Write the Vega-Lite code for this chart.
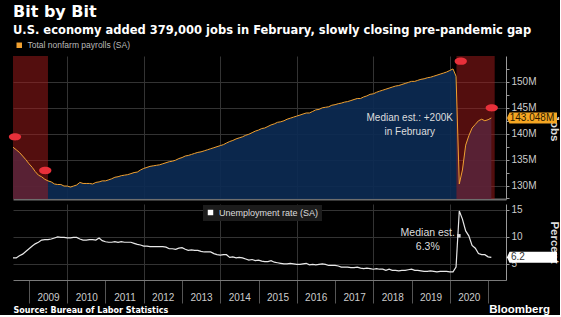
{
  "$schema": "https://vega.github.io/schema/vega-lite/v6.json",
  "background": "#000000",
  "padding": {"left": 8, "top": 3, "right": 0, "bottom": 0},
  "title": {
    "text": "Bit by Bit",
    "subtitle": "U.S. economy added 379,000 jobs in February, slowly closing pre-pandemic gap",
    "anchor": "start", "frame": "group",
    "font": "DejaVu Sans", "fontSize": 16, "fontWeight": "bold", "color": "#ffffff",
    "subtitleFont": "DejaVu Sans", "subtitleFontSize": 11.5, "subtitleFontWeight": "bold", "subtitleColor": "#ffffff",
    "subtitlePadding": 5, "offset": 5
  },
  "config": {
    "view": {"stroke": null},
    "font": "Liberation Sans",
    "axis": {"labelFont": "Liberation Sans", "titleFont": "Liberation Sans"},
    "legend": {"labelFont": "Liberation Sans"}
  },
  "spacing": 0,
  "resolve": {"scale": {"color": "independent", "y": "independent"}, "legend": {"color": "independent"}},
  "datasets": {
    "main": [
      {"date":"2008-08-01","jobs":137.4,"rate":6.1},{"date":"2008-09-01","jobs":136.9,"rate":6.1},{"date":"2008-10-01","jobs":136.4,"rate":6.5},{"date":"2008-11-01","jobs":135.7,"rate":6.8},{"date":"2008-12-01","jobs":135.0,"rate":7.3},
      {"date":"2009-01-01","jobs":134.2,"rate":7.8},{"date":"2009-02-01","jobs":133.5,"rate":8.3},{"date":"2009-03-01","jobs":132.7,"rate":8.7},{"date":"2009-04-01","jobs":132.0,"rate":9.0},{"date":"2009-05-01","jobs":131.7,"rate":9.4},{"date":"2009-06-01","jobs":131.2,"rate":9.5},{"date":"2009-07-01","jobs":130.9,"rate":9.5},{"date":"2009-08-01","jobs":130.7,"rate":9.6},{"date":"2009-09-01","jobs":130.3,"rate":9.8},{"date":"2009-10-01","jobs":130.2,"rate":10.0},{"date":"2009-11-01","jobs":130.2,"rate":9.9},{"date":"2009-12-01","jobs":129.9,"rate":9.9},
      {"date":"2010-01-01","jobs":129.9,"rate":9.8},{"date":"2010-02-01","jobs":129.7,"rate":9.8},{"date":"2010-03-01","jobs":129.9,"rate":9.9},{"date":"2010-04-01","jobs":130.1,"rate":9.9},{"date":"2010-05-01","jobs":130.6,"rate":9.6},{"date":"2010-06-01","jobs":130.4,"rate":9.4},{"date":"2010-07-01","jobs":130.4,"rate":9.4},{"date":"2010-08-01","jobs":130.4,"rate":9.5},{"date":"2010-09-01","jobs":130.3,"rate":9.5},{"date":"2010-10-01","jobs":130.6,"rate":9.4},{"date":"2010-11-01","jobs":130.7,"rate":9.8},{"date":"2010-12-01","jobs":130.9,"rate":9.3},
      {"date":"2011-01-01","jobs":130.9,"rate":9.1},{"date":"2011-02-01","jobs":131.1,"rate":9.0},{"date":"2011-03-01","jobs":131.3,"rate":9.0},{"date":"2011-04-01","jobs":131.6,"rate":9.1},{"date":"2011-05-01","jobs":131.7,"rate":9.0},{"date":"2011-06-01","jobs":131.9,"rate":9.1},{"date":"2011-07-01","jobs":132.0,"rate":9.0},{"date":"2011-08-01","jobs":132.1,"rate":9.0},{"date":"2011-09-01","jobs":132.3,"rate":9.0},{"date":"2011-10-01","jobs":132.5,"rate":8.8},{"date":"2011-11-01","jobs":132.6,"rate":8.6},{"date":"2011-12-01","jobs":133.0,"rate":8.5},
      {"date":"2012-01-01","jobs":133.3,"rate":8.3},{"date":"2012-02-01","jobs":133.5,"rate":8.3},{"date":"2012-03-01","jobs":133.7,"rate":8.2},{"date":"2012-04-01","jobs":133.8,"rate":8.2},{"date":"2012-05-01","jobs":133.9,"rate":8.2},{"date":"2012-06-01","jobs":134.0,"rate":8.2},{"date":"2012-07-01","jobs":134.2,"rate":8.2},{"date":"2012-08-01","jobs":134.4,"rate":8.1},{"date":"2012-09-01","jobs":134.6,"rate":7.8},{"date":"2012-10-01","jobs":134.7,"rate":7.8},{"date":"2012-11-01","jobs":134.9,"rate":7.7},{"date":"2012-12-01","jobs":135.2,"rate":7.9},
      {"date":"2013-01-01","jobs":135.4,"rate":8.0},{"date":"2013-02-01","jobs":135.7,"rate":7.7},{"date":"2013-03-01","jobs":135.8,"rate":7.5},{"date":"2013-04-01","jobs":136.0,"rate":7.6},{"date":"2013-05-01","jobs":136.2,"rate":7.5},{"date":"2013-06-01","jobs":136.4,"rate":7.5},{"date":"2013-07-01","jobs":136.5,"rate":7.3},{"date":"2013-08-01","jobs":136.7,"rate":7.2},{"date":"2013-09-01","jobs":136.9,"rate":7.2},{"date":"2013-10-01","jobs":137.1,"rate":7.2},{"date":"2013-11-01","jobs":137.3,"rate":6.9},{"date":"2013-12-01","jobs":137.5,"rate":6.7},
      {"date":"2014-01-01","jobs":137.7,"rate":6.6},{"date":"2014-02-01","jobs":137.9,"rate":6.7},{"date":"2014-03-01","jobs":138.2,"rate":6.7},{"date":"2014-04-01","jobs":138.5,"rate":6.2},{"date":"2014-05-01","jobs":138.7,"rate":6.3},{"date":"2014-06-01","jobs":139.0,"rate":6.1},{"date":"2014-07-01","jobs":139.2,"rate":6.2},{"date":"2014-08-01","jobs":139.4,"rate":6.1},{"date":"2014-09-01","jobs":139.7,"rate":5.9},{"date":"2014-10-01","jobs":139.9,"rate":5.7},{"date":"2014-11-01","jobs":140.2,"rate":5.8},{"date":"2014-12-01","jobs":140.5,"rate":5.6},
      {"date":"2015-01-01","jobs":140.7,"rate":5.7},{"date":"2015-02-01","jobs":141.0,"rate":5.5},{"date":"2015-03-01","jobs":141.1,"rate":5.4},{"date":"2015-04-01","jobs":141.4,"rate":5.4},{"date":"2015-05-01","jobs":141.7,"rate":5.6},{"date":"2015-06-01","jobs":141.9,"rate":5.3},{"date":"2015-07-01","jobs":142.2,"rate":5.2},{"date":"2015-08-01","jobs":142.3,"rate":5.1},{"date":"2015-09-01","jobs":142.5,"rate":5.0},{"date":"2015-10-01","jobs":142.8,"rate":5.0},{"date":"2015-11-01","jobs":143.0,"rate":5.1},{"date":"2015-12-01","jobs":143.2,"rate":5.0},
      {"date":"2016-01-01","jobs":143.4,"rate":4.9},{"date":"2016-02-01","jobs":143.6,"rate":4.9},{"date":"2016-03-01","jobs":143.8,"rate":5.0},{"date":"2016-04-01","jobs":144.0,"rate":5.1},{"date":"2016-05-01","jobs":144.0,"rate":4.8},{"date":"2016-06-01","jobs":144.3,"rate":4.9},{"date":"2016-07-01","jobs":144.6,"rate":4.8},{"date":"2016-08-01","jobs":144.7,"rate":4.9},{"date":"2016-09-01","jobs":145.0,"rate":5.0},{"date":"2016-10-01","jobs":145.1,"rate":4.9},{"date":"2016-11-01","jobs":145.2,"rate":4.7},{"date":"2016-12-01","jobs":145.5,"rate":4.7},
      {"date":"2017-01-01","jobs":145.6,"rate":4.7},{"date":"2017-02-01","jobs":145.8,"rate":4.6},{"date":"2017-03-01","jobs":145.9,"rate":4.4},{"date":"2017-04-01","jobs":146.1,"rate":4.4},{"date":"2017-05-01","jobs":146.2,"rate":4.4},{"date":"2017-06-01","jobs":146.4,"rate":4.3},{"date":"2017-07-01","jobs":146.6,"rate":4.3},{"date":"2017-08-01","jobs":146.8,"rate":4.4},{"date":"2017-09-01","jobs":146.8,"rate":4.2},{"date":"2017-10-01","jobs":147.1,"rate":4.1},{"date":"2017-11-01","jobs":147.3,"rate":4.2},{"date":"2017-12-01","jobs":147.6,"rate":4.1},
      {"date":"2018-01-01","jobs":147.7,"rate":4.0},{"date":"2018-02-01","jobs":148.0,"rate":4.1},{"date":"2018-03-01","jobs":148.2,"rate":4.0},{"date":"2018-04-01","jobs":148.4,"rate":4.0},{"date":"2018-05-01","jobs":148.6,"rate":3.8},{"date":"2018-06-01","jobs":148.8,"rate":4.0},{"date":"2018-07-01","jobs":149.0,"rate":3.8},{"date":"2018-08-01","jobs":149.2,"rate":3.8},{"date":"2018-09-01","jobs":149.3,"rate":3.7},{"date":"2018-10-01","jobs":149.5,"rate":3.8},{"date":"2018-11-01","jobs":149.7,"rate":3.8},{"date":"2018-12-01","jobs":149.9,"rate":3.9},
      {"date":"2019-01-01","jobs":150.1,"rate":4.0},{"date":"2019-02-01","jobs":150.1,"rate":3.8},{"date":"2019-03-01","jobs":150.3,"rate":3.8},{"date":"2019-04-01","jobs":150.5,"rate":3.7},{"date":"2019-05-01","jobs":150.6,"rate":3.6},{"date":"2019-06-01","jobs":150.8,"rate":3.6},{"date":"2019-07-01","jobs":150.9,"rate":3.7},{"date":"2019-08-01","jobs":151.1,"rate":3.6},{"date":"2019-09-01","jobs":151.3,"rate":3.5},{"date":"2019-10-01","jobs":151.5,"rate":3.6},{"date":"2019-11-01","jobs":151.7,"rate":3.6},{"date":"2019-12-01","jobs":151.9,"rate":3.6},
      {"date":"2020-01-01","jobs":152.2,"rate":3.5},{"date":"2020-02-01","jobs":152.5,"rate":3.5},{"date":"2020-03-01","jobs":151.1,"rate":4.4},{"date":"2020-04-01","jobs":130.3,"rate":14.8},{"date":"2020-05-01","jobs":133.0,"rate":13.3},{"date":"2020-06-01","jobs":137.8,"rate":11.1},{"date":"2020-07-01","jobs":139.6,"rate":10.2},{"date":"2020-08-01","jobs":141.1,"rate":8.4},{"date":"2020-09-01","jobs":141.8,"rate":7.9},{"date":"2020-10-01","jobs":142.5,"rate":6.9},{"date":"2020-11-01","jobs":142.8,"rate":6.7},{"date":"2020-12-01","jobs":142.5,"rate":6.7},
      {"date":"2021-01-01","jobs":142.7,"rate":6.3},{"date":"2021-02-01","jobs":143.048,"rate":6.2}
    ],
    "recessions": [
      {"date":"2008-08-01","end":"2009-07-01"},
      {"date":"2020-03-05","end":"2021-03-05"}
    ],
    "flags": [
      {"date":"2008-08-20","jobs":139.4},
      {"date":"2009-06-05","jobs":132.9},
      {"date":"2020-04-15","jobs":154.0},
      {"date":"2021-02-05","jobs":145.0}
    ],
    "noteTop": [{"date":"2018-12-15","jobs":143.1,"label":["Median est.: +200K","in February"]}],
    "noteBottom": [{"date":"2019-06-05","rate":10.8,"label":["Median est.","6.3%"]}],
    "dotBottom": [{"date":"2020-03-28","rate":10.2}],
    "tagTop": [{"date":"2022-02-24","jobs":143.048,"label":"143.048M"}],
    "tagBottom": [{"date":"2022-02-24","rate":6.2,"label":"6.2"}]
  },
  "vconcat": [
    {
      "width": 493,
      "height": 143,
      "encoding": {
        "x": {
          "field": "date", "type": "temporal",
          "scale": {"type": "utc", "domain": [{"year":2008,"month":8,"date":1,"utc":true},{"year":2021,"month":6,"date":21,"utc":true}]},
          "axis": {
            "title": null, "labels": false, "ticks": false, "tickCount": "year",
            "domain": true, "domainColor": "#6e6e6e", "domainWidth": 2,
            "grid": true, "gridColor": "#333333",
            "gridOpacity": {"condition": {"test": "utcyear(datum.value) % 2 == 0", "value": 1}, "value": 0}
          }
        }
      },
      "layer": [
        {
          "data": {"name": "main"},
          "mark": {"type": "area", "color": "#0c2a52", "opacity": 0.92},
          "encoding": {
            "y": {
              "field": "jobs", "type": "quantitative",
              "scale": {"domain": [127.4, 155], "zero": false, "nice": false},
              "axis": {"orient": "right", "title": "Jobs", "values": [127.5,130,132.5,135,137.5,140,142.5,145,147.5,150,152.5], "labelExpr": "datum.value % 5 == 0 ? datum.value + 'M' : ''", "labelOverlap": false, "grid": true, "gridColor": "#333333", "gridOpacity": {"condition": {"test": "datum.value % 5 == 0", "value": 1}, "value": 0}, "tickSize": 3, "tickColor": "#9a9a9a", "domainColor": "#9a9a9a", "labelColor": "#cccccc", "labelFontSize": 10, "labelPadding": 2, "titleColor": "#dddddd", "titleFontSize": 11.5, "titlePadding": 12}
            },
            "y2": {"datum": 127.4}
          }
        },
        {
          "data": {"name": "recessions"},
          "mark": {"type": "rect", "color": "#a51c1c", "opacity": 0.5},
          "encoding": {"x2": {"field": "end"}}
        },
        {
          "data": {"name": "main"},
          "mark": {"type": "line", "strokeWidth": 1},
          "encoding": {
            "y": {"field": "jobs", "type": "quantitative",
              "axis": {"orient": "right", "title": "Jobs", "values": [127.5,130,132.5,135,137.5,140,142.5,145,147.5,150,152.5], "labelExpr": "datum.value % 5 == 0 ? datum.value + 'M' : ''", "labelOverlap": false, "grid": true, "gridColor": "#333333", "gridOpacity": {"condition": {"test": "datum.value % 5 == 0", "value": 1}, "value": 0}, "tickSize": 3, "tickColor": "#9a9a9a", "domainColor": "#9a9a9a", "labelColor": "#cccccc", "labelFontSize": 10, "labelPadding": 2, "titleColor": "#dddddd", "titleFontSize": 11.5, "titlePadding": 12}},
            "color": {
              "datum": "Total nonfarm payrolls (SA)",
              "scale": {"range": ["#f0a030"]},
              "legend": {
                "orient": "none", "legendX": 2, "legendY": -15, "title": null,
                "symbolType": "square", "symbolSize": 30, "symbolFillColor": "#f0a030", "symbolStrokeWidth": 0,
                "labelFontSize": 8.5, "labelColor": "#bbbbbb", "padding": 0
              }
            }
          }
        },
        {
          "data": {"name": "flags"},
          "mark": {"type": "point", "filled": true, "color": "#e8303a", "opacity": 1, "size": 150,
                   "shape": "M-1,0C-1,-0.8 1,-0.8 1,0C1,0.8 -1,0.8 -1,0Z"},
          "encoding": {"y": {"field": "jobs", "type": "quantitative",
            "axis": {"orient": "right", "title": "Jobs", "values": [127.5,130,132.5,135,137.5,140,142.5,145,147.5,150,152.5], "labelExpr": "datum.value % 5 == 0 ? datum.value + 'M' : ''", "labelOverlap": false, "grid": true, "gridColor": "#333333", "gridOpacity": {"condition": {"test": "datum.value % 5 == 0", "value": 1}, "value": 0}, "tickSize": 3, "tickColor": "#9a9a9a", "domainColor": "#9a9a9a", "labelColor": "#cccccc", "labelFontSize": 10, "labelPadding": 2, "titleColor": "#dddddd", "titleFontSize": 11.5, "titlePadding": 12}}}
        },
        {
          "data": {"name": "noteTop"},
          "mark": {"type": "text", "color": "#dddddd", "fontSize": 10, "lineHeight": 14, "align": "center", "baseline": "middle"},
          "encoding": {"y": {"field": "jobs", "type": "quantitative",
            "axis": {"orient": "right", "title": "Jobs", "values": [127.5,130,132.5,135,137.5,140,142.5,145,147.5,150,152.5], "labelExpr": "datum.value % 5 == 0 ? datum.value + 'M' : ''", "labelOverlap": false, "grid": true, "gridColor": "#333333", "gridOpacity": {"condition": {"test": "datum.value % 5 == 0", "value": 1}, "value": 0}, "tickSize": 3, "tickColor": "#9a9a9a", "domainColor": "#9a9a9a", "labelColor": "#cccccc", "labelFontSize": 10, "labelPadding": 2, "titleColor": "#dddddd", "titleFontSize": 11.5, "titlePadding": 12}},
            "text": {"field": "label"}}
        },
        {
          "data": {"name": "tagTop"},
          "mark": {"type": "point", "filled": true, "color": "#f5a623", "opacity": 1, "size": 2500,
                   "shape": "M-1,0L-0.9,-0.22L1,-0.22L1,0.22L-0.9,0.22Z"},
          "encoding": {"y": {"field": "jobs", "type": "quantitative",
            "axis": {"orient": "right", "title": "Jobs", "values": [127.5,130,132.5,135,137.5,140,142.5,145,147.5,150,152.5], "labelExpr": "datum.value % 5 == 0 ? datum.value + 'M' : ''", "labelOverlap": false, "grid": true, "gridColor": "#333333", "gridOpacity": {"condition": {"test": "datum.value % 5 == 0", "value": 1}, "value": 0}, "tickSize": 3, "tickColor": "#9a9a9a", "domainColor": "#9a9a9a", "labelColor": "#cccccc", "labelFontSize": 10, "labelPadding": 2, "titleColor": "#dddddd", "titleFontSize": 11.5, "titlePadding": 12}}}
        },
        {
          "data": {"name": "tagTop"},
          "mark": {"type": "text", "color": "#2a1a00", "fontSize": 10, "align": "center", "baseline": "middle"},
          "encoding": {"y": {"field": "jobs", "type": "quantitative",
            "axis": {"orient": "right", "title": "Jobs", "values": [127.5,130,132.5,135,137.5,140,142.5,145,147.5,150,152.5], "labelExpr": "datum.value % 5 == 0 ? datum.value + 'M' : ''", "labelOverlap": false, "grid": true, "gridColor": "#333333", "gridOpacity": {"condition": {"test": "datum.value % 5 == 0", "value": 1}, "value": 0}, "tickSize": 3, "tickColor": "#9a9a9a", "domainColor": "#9a9a9a", "labelColor": "#cccccc", "labelFontSize": 10, "labelPadding": 2, "titleColor": "#dddddd", "titleFontSize": 11.5, "titlePadding": 12}},
            "text": {"field": "label"}}
        }
      ]
    },
    {
      "width": 493,
      "height": 76,
      "title": {"text": "Bloomberg", "orient": "bottom", "anchor": "end", "frame": "group", "offset": -11, "dx": 44,
                "font": "Liberation Sans", "fontSize": 11.5, "fontWeight": "bold", "color": "#ffffff"},
      "encoding": {
        "x": {
          "field": "date", "type": "temporal",
          "scale": {"type": "utc", "domain": [{"year":2008,"month":8,"date":1,"utc":true},{"year":2021,"month":6,"date":21,"utc":true}]},
          "axis": {
            "title": "Source: Bureau of Labor Statistics", "titleAnchor": "start", "titleAlign": "left",
            "titleFont": "DejaVu Sans", "titleFontSize": 8, "titleFontWeight": "bold", "titleColor": "#ffffff", "titlePadding": 3,
            "tickCount": "year", "tickSize": 23, "tickColor": "#555555",
            "labelOffset": 19, "labelPadding": -11, "labelFlush": false, "labelOverlap": false,
            "labelExpr": "utcyear(datum.value) >= 2021 ? '' : utcFormat(datum.value, '%Y')",
            "labelColor": "#cccccc", "labelFontSize": 10,
            "domainColor": "#7a7a7a",
            "grid": true, "gridColor": "#333333",
            "gridOpacity": {"condition": {"test": "utcyear(datum.value) % 2 == 0", "value": 1}, "value": 0}
          }
        }
      },
      "layer": [
        {
          "data": {"name": "main"},
          "mark": {"type": "line", "strokeWidth": 1.2},
          "encoding": {
            "y": {
              "field": "rate", "type": "quantitative",
              "scale": {"domain": [2, 16.1], "zero": false, "nice": false},
              "axis": {"orient": "right", "title": "Percent", "values": [5, 10, 15], "labelOverlap": false, "grid": true, "gridColor": "#333333", "tickSize": 3, "tickColor": "#9a9a9a", "domainColor": "#9a9a9a", "labelColor": "#cccccc", "labelFontSize": 10, "labelPadding": 2, "titleColor": "#dddddd", "titleFontSize": 11.5, "titlePadding": 26}
            },
            "color": {
              "datum": "Unemployment rate (SA)",
              "scale": {"range": ["#e8e8e8"]},
              "legend": {
                "orient": "none", "legendX": 190, "legendY": 1, "title": null,
                "symbolType": "square", "symbolSize": 30, "symbolFillColor": "#ffffff", "symbolStrokeWidth": 0,
                "labelFontSize": 9, "labelColor": "#dddddd", "padding": 3, "fillColor": "#1c1c1c"
              }
            }
          }
        },
        {
          "data": {"name": "noteBottom"},
          "mark": {"type": "text", "color": "#dddddd", "fontSize": 10.5, "lineHeight": 14, "align": "center", "baseline": "middle"},
          "encoding": {"y": {"field": "rate", "type": "quantitative",
            "axis": {"orient": "right", "title": "Percent", "values": [5, 10, 15], "labelOverlap": false, "grid": true, "gridColor": "#333333", "tickSize": 3, "tickColor": "#9a9a9a", "domainColor": "#9a9a9a", "labelColor": "#cccccc", "labelFontSize": 10, "labelPadding": 2, "titleColor": "#dddddd", "titleFontSize": 11.5, "titlePadding": 26}},
            "text": {"field": "label"}}
        },
        {
          "data": {"name": "dotBottom"},
          "mark": {"type": "point", "filled": true, "shape": "square", "color": "#dddddd", "opacity": 1, "size": 12},
          "encoding": {"y": {"field": "rate", "type": "quantitative",
            "axis": {"orient": "right", "title": "Percent", "values": [5, 10, 15], "labelOverlap": false, "grid": true, "gridColor": "#333333", "tickSize": 3, "tickColor": "#9a9a9a", "domainColor": "#9a9a9a", "labelColor": "#cccccc", "labelFontSize": 10, "labelPadding": 2, "titleColor": "#dddddd", "titleFontSize": 11.5, "titlePadding": 26}}}
        },
        {
          "data": {"name": "tagBottom"},
          "mark": {"type": "point", "filled": true, "color": "#ffffff", "opacity": 1, "size": 2500,
                   "shape": "M-1,0L-0.9,-0.22L1,-0.22L1,0.22L-0.9,0.22Z"},
          "encoding": {"y": {"field": "rate", "type": "quantitative",
            "axis": {"orient": "right", "title": "Percent", "values": [5, 10, 15], "labelOverlap": false, "grid": true, "gridColor": "#333333", "tickSize": 3, "tickColor": "#9a9a9a", "domainColor": "#9a9a9a", "labelColor": "#cccccc", "labelFontSize": 10, "labelPadding": 2, "titleColor": "#dddddd", "titleFontSize": 11.5, "titlePadding": 26}}}
        },
        {
          "data": {"name": "tagBottom"},
          "mark": {"type": "text", "color": "#333333", "fontSize": 10, "align": "left", "baseline": "middle", "dx": -21},
          "encoding": {"y": {"field": "rate", "type": "quantitative",
            "axis": {"orient": "right", "title": "Percent", "values": [5, 10, 15], "labelOverlap": false, "grid": true, "gridColor": "#333333", "tickSize": 3, "tickColor": "#9a9a9a", "domainColor": "#9a9a9a", "labelColor": "#cccccc", "labelFontSize": 10, "labelPadding": 2, "titleColor": "#dddddd", "titleFontSize": 11.5, "titlePadding": 26}},
            "text": {"field": "label"}}
        }
      ]
    }
  ]
}
